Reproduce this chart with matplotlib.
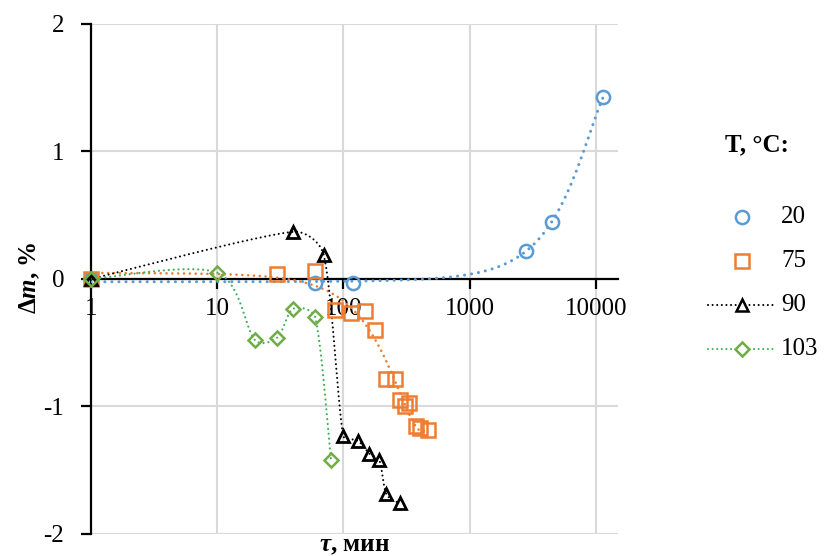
import numpy as np
import matplotlib
matplotlib.use("Agg")
import matplotlib.pyplot as plt
from matplotlib.lines import Line2D

plt.rcParams['font.family'] = ['Liberation Serif', 'DejaVu Serif']
plt.rcParams['mathtext.fontset'] = 'custom'
plt.rcParams['mathtext.rm'] = 'Liberation Serif'
plt.rcParams['mathtext.it'] = 'Liberation Serif:italic'
plt.rcParams['mathtext.bf'] = 'Liberation Serif:bold'
plt.rcParams['mathtext.bfit'] = 'Liberation Serif:bold:italic'
plt.rcParams['axes.unicode_minus'] = False

# data (tau, min / delta m, %)
t20 = [1, 60, 120, 2800, 4500, 11500]
m20 = [0, -0.03, -0.03, 0.22, 0.45, 1.43]
t75 = [1, 30, 60, 86, 116, 150, 180, 218, 256, 281, 308, 333, 376, 405, 466]
m75 = [0, 0.04, 0.06, -0.24, -0.27, -0.255, -0.40, -0.785, -0.785, -0.95,
       -1.0, -0.975, -1.15, -1.17, -1.185]
t90 = [1, 40, 70, 100, 131, 161, 193, 220, 281]
m90 = [0, 0.37, 0.19, -1.23, -1.27, -1.37, -1.42, -1.69, -1.76]
t103 = [1, 10, 20, 30, 40, 60, 80]
m103 = [0, 0.05, -0.48, -0.46, -0.235, -0.30, -1.42]

labels = ["20", "75", "90", "103"]
xticks = [1, 10, 100, 1000, 10000]
yticks = [-2, -1, 0, 1, 2]

BLUE = "#5B9BD5"
ORANGE = "#ED7D31"
GREEN = "#70AD47"
GREEN_LINE = "#3CB054"


def smooth(x, y, n=40):
    # excel-like smoothed line (bezier through points, in log-x space)
    p = np.column_stack([np.log10(x), np.asarray(y, float)])
    pts = np.vstack([p[0], p, p[-1]])
    out = []
    s = np.linspace(0, 1, n)[:, None]
    for i in range(1, len(pts) - 2):
        p0, p1, p2, p3 = pts[i - 1], pts[i], pts[i + 1], pts[i + 2]
        seg = np.linalg.norm(p2 - p1) / 3
        d1, d2 = p2 - p0, p3 - p1
        n1, n2 = np.linalg.norm(d1), np.linalg.norm(d2)
        c1 = p1 + d1 / n1 * min(n1 / 6, seg) if n1 > 0 else p1
        c2 = p2 - d2 / n2 * min(n2 / 6, seg) if n2 > 0 else p2
        out.append((1 - s) ** 3 * p1 + 3 * (1 - s) ** 2 * s * c1
                   + 3 * (1 - s) * s ** 2 * c2 + s ** 3 * p2)
    c = np.vstack(out)
    return 10 ** c[:, 0], c[:, 1]


def trend(x, y, deg):
    # polynomial trendline, like in excel
    coef = np.polyfit(x, y, deg)
    xs = np.logspace(np.log10(min(x)), np.log10(max(x)), 400)
    return xs, np.polyval(coef, xs)


fig = plt.figure(figsize=(8.26, 5.56), dpi=100)
ax = fig.add_axes([0.1098, 0.0396, 0.6384, 0.9173])

dots = dict(dash_capstyle="round", solid_capstyle="round")

xs, ys = trend(t20, m20, 3)
ax.plot(xs, ys, color=BLUE, lw=2.2, ls=(0, (0.01, 2.3)), zorder=3, **dots)
xs, ys = trend(t75, m75, 3)
ax.plot(xs, ys, color=ORANGE, lw=1.9, ls=(0, (0.01, 2.2)), zorder=3, **dots)
xs, ys = smooth(t90, m90)
ax.plot(xs, ys, color="black", lw=1.5, ls=(0, (0.01, 2.2)), zorder=3, **dots)
xs, ys = smooth(t103, m103)
ax.plot(xs, ys, color=GREEN_LINE, lw=1.6, ls=(0, (0.01, 2.2)), zorder=3, **dots)

ax.plot(t20, m20, ls="none", marker="o", ms=9.5, mfc="none", mec=BLUE,
        mew=1.8, zorder=4, clip_on=False)
ax.plot(t75, m75, ls="none", marker="s", ms=10, mfc="none", mec=ORANGE,
        mew=1.8, zorder=4, clip_on=False)
ax.plot(t90, m90, ls="none", marker="^", ms=8.5, mfc="none", mec="black",
        mew=2, zorder=4, clip_on=False)
ax.plot(t103, m103, ls="none", marker="D", ms=7.5, mfc="none", mec=GREEN,
        mew=1.8, zorder=4, clip_on=False)

ax.set_xscale("log")
ax.set_xlim(1, 15000)
ax.set_ylim(-2, 2)
ax.set_xticks(xticks)
ax.set_xticklabels([str(v) for v in xticks])
ax.xaxis.set_minor_locator(matplotlib.ticker.NullLocator())
ax.set_yticks(yticks)
ax.set_yticklabels([str(v) for v in yticks])

ax.spines["top"].set_visible(False)
ax.spines["right"].set_visible(False)
ax.spines["bottom"].set_position(("data", 0))
ax.spines["bottom"].set_linewidth(1.6)
ax.spines["left"].set_linewidth(1.6)
ax.spines["bottom"].set_zorder(2.5)

ax.tick_params(axis="both", direction="out", length=7, width=1.6, labelsize=18)
ax.tick_params(axis="x", pad=7)
ax.tick_params(axis="y", pad=12)

ax.grid(True, color="#D9D9D9", lw=1.5, zorder=0)
ax.set_axisbelow(True)

fig.text(30 / 826, 1 - 278 / 556, r"$\mathbf{\Delta}\mathbfit{m}$, %",
         rotation=90, ha="center", va="center", fontsize=18, fontweight="bold")
fig.text(354 / 826, 1 - 534 / 556, r"$\mathbfit{\tau}$, мин",
         ha="center", va="top", fontsize=18, fontweight="bold")

# legend
fig.text(757 / 826, 1 - 145 / 556, "T, °C:", ha="center", va="center",
         fontsize=18, fontweight="bold")
leg_y = [217, 261, 305, 349]
styles = [
    dict(marker="o", ms=9.5, mec=BLUE, line=None),
    dict(marker="s", ms=10, mec=ORANGE, line=None),
    dict(marker="^", ms=8.5, mec="black", line="black"),
    dict(marker="D", ms=7.5, mec=GREEN, line=GREEN_LINE),
]
for lab, yy, st in zip(labels, leg_y, styles):
    yf = 1 - yy / 556
    if st["line"] is not None:
        fig.add_artist(Line2D([708 / 826, 775 / 826], [yf, yf],
                              transform=fig.transFigure, color=st["line"],
                              lw=1.5, ls=(0, (0.01, 2.2)), **dots))
    fig.add_artist(Line2D([742 / 826], [yf], transform=fig.transFigure,
                          ls="none", marker=st["marker"], ms=st["ms"],
                          mfc="white", mec=st["mec"], mew=1.8))
    fig.text(781 / 826, yf, lab, ha="left", va="center", fontsize=18)

fig.savefig("out.png", dpi=100)
